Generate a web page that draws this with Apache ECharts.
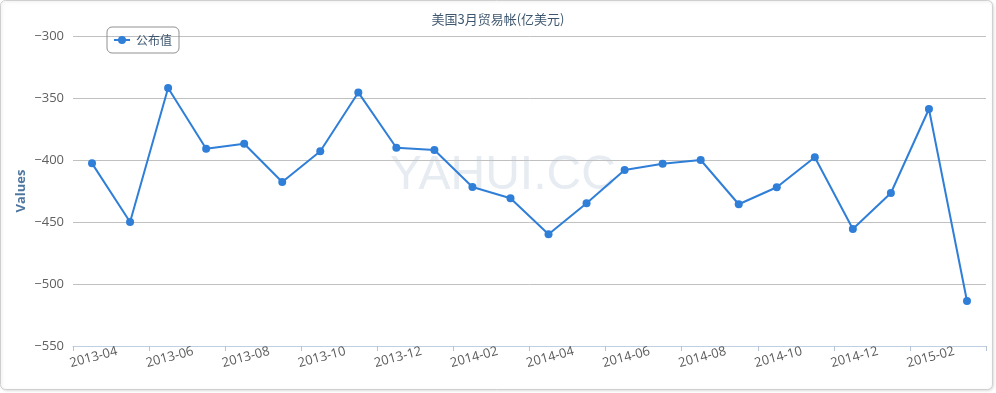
<!DOCTYPE html>
<html>
<head>
<meta charset="utf-8">
<script src="https://cdn.jsdelivr.net/npm/echarts@6/dist/echarts.min.js"></script>
<style>
html,body{margin:0;padding:0;background:#fff;}
#c{width:996px;height:393px;}
</style>
</head>
<body>
<div id="c"></div>
<script>
var categories = ['2013-04','2013-05','2013-06','2013-07','2013-08','2013-09','2013-10','2013-11','2013-12','2014-01','2014-02','2014-03','2014-04','2014-05','2014-06','2014-07','2014-08','2014-09','2014-10','2014-11','2014-12','2015-01','2015-02','2015-03'];
var published = [-402.7,-450.0,-342.0,-390.9,-386.9,-417.7,-393.0,-345.5,-390.1,-392.0,-421.8,-430.9,-459.9,-434.9,-408.1,-403.0,-400.0,-435.7,-422.0,-397.8,-455.6,-426.6,-358.9,-513.7];
var seriesName = '公布值';
var titleText = '美国3月贸易帐(亿美元)';
var yName = 'Values';
var yMin = -550, yMax = -300, yStep = 50;

var chart = echarts.init(document.getElementById('c'));
chart.setOption({
  animation: false,
  title: {
    text: titleText,
    left: 'center',
    top: 8,
    textStyle: {fontSize: 13, fontWeight: 'normal', color: '#3E576F', fontFamily: 'Noto Sans CJK SC'}
  },
  graphic: [
    {type: 'rect', silent: true, z: -10,
     shape: {x: 0.5, y: 0.5, width: 992, height: 389, r: 5},
     style: {fill: '#fff', stroke: '#cfcfcf', lineWidth: 1, shadowColor: 'rgba(0,0,0,0.12)', shadowBlur: 3, shadowOffsetX: 1, shadowOffsetY: 1}},
    {type: 'text', silent: true, z: -5, left: 390, top: 152,
     style: {text: 'YAHUI.CC', fill: '#e6ecf1', font: '48px "Liberation Sans"'}}
  ],
  legend: {
    left: 107, top: 27,
    padding: [7, 7, 7, 7],
    borderColor: '#909090', borderWidth: 1, borderRadius: 5,
    itemWidth: 16, itemHeight: 8,
    itemGap: 6,
    textStyle: {fontSize: 12, color: '#3E576F', fontFamily: 'Noto Sans CJK SC', padding: [0, 0, 0, 1]},
    data: [{name: seriesName, icon: 'path://M0,3 L16,3 L16,5 L0,5 Z M4,4 A4,4 0 1 1 12,4 A4,4 0 1 1 4,4 Z'}]
  },
  grid: {left: 73, right: 10, top: 36, bottom: 47},
  xAxis: {
    type: 'category',
    data: categories,
    boundaryGap: true,
    axisLine: {lineStyle: {color: '#C0D0E0'}},
    axisTick: {show: true, interval: 1, length: 5, lineStyle: {color: '#b5c5d5'}},
    axisLabel: {interval: 1, rotate: 15, align: 'center', verticalAlign: 'top', margin: 5,
      color: '#5a5a5a', fontSize: 13, fontFamily: 'Open Sans'}
  },
  yAxis: {
    type: 'value',
    min: yMin, max: yMax, interval: yStep,
    name: yName,
    nameLocation: 'middle',
    nameGap: 45,
    nameMoveOverlap: false,
    nameTextStyle: {color: '#4d759e', fontWeight: 'bold', fontSize: 13, fontFamily: 'Open Sans'},
    axisLine: {show: false},
    axisTick: {show: false},
    axisLabel: {color: '#606060', fontSize: 13, margin: 9, fontFamily: 'Open Sans',
      formatter: function (v) { return String(v).replace('-', '\u2212'); }},
    splitLine: {lineStyle: {color: '#C0C0C0'}}
  },
  series: [{
    name: seriesName,
    type: 'line',
    data: published,
    symbol: 'circle',
    symbolSize: 8,
    itemStyle: {color: '#2f7ed8'},
    lineStyle: {width: 2, color: '#2f7ed8'}
  }]
});
</script>
</body>
</html>
